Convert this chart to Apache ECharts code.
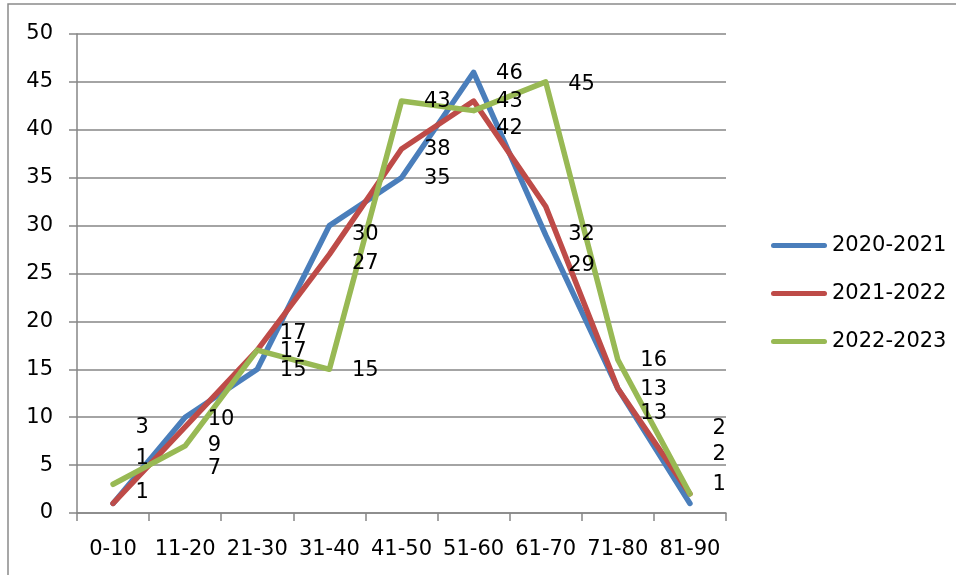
<!DOCTYPE html>
<html>
<head>
<meta charset="utf-8">
<style>
  html, body { margin: 0; padding: 0; background: #fff; }
  #chart { width: 956px; height: 575px; }
</style>
<script src="https://cdn.jsdelivr.net/npm/echarts@6/dist/echarts.min.js"></script>
</head>
<body>
<div id="chart"></div>
<script>
// Age bands on the category axis
const categories = ['0-10', '11-20', '21-30', '31-40', '41-50', '51-60', '61-70', '71-80', '81-90'];

// Counts per age band for each school year
const seriesNames = ['2020-2021', '2021-2022', '2022-2023'];
const values2020 = [1, 10, 15, 30, 35, 46, 29, 13, 1];
const values2021 = [1, 9, 17, 27, 38, 43, 32, 13, 2];
const values2022 = [3, 7, 17, 15, 43, 42, 45, 16, 2];

// Y axis ticks
const yMin = 0, yMax = 50, yStep = 5;

// Vertical nudges (px) that keep the value labels of each band from colliding
const labelDy2020 = [-11, 2, 1, 9, 1, 1, 30, 25, -19];
const labelDy2021 = [-45, 19, -17, 9, 1, 0, 28, 1, -39];
const labelDy2022 = [-57, 23, 1, 1, 0, 18, 3, 1, -65];

const colors = ['#4a7ebb', '#be4b48', '#98b954'];
const FONT = 'DejaVu Sans';
const FONT_SIZE = 21;

function buildData(vals, dys) {
  return vals.map((v, i) => ({ value: v, label: { offset: [0, dys[i]] } }));
}

function makeSeries(name, vals, dys, color) {
  return {
    name: name,
    type: 'line',
    data: buildData(vals, dys),
    symbol: 'circle',
    symbolSize: 1,
    showSymbol: true,
    itemStyle: { color: color },
    lineStyle: { color: color, width: 5.5, cap: 'round', join: 'round' },
    emphasis: { disabled: true },
    label: {
      show: true,
      position: 'right',
      distance: 22,
      color: '#000',
      fontFamily: FONT,
      fontSize: FONT_SIZE
    },
    animation: false
  };
}

const legendIcon = 'path://M2.5,0 H53.5 A2.5,2.5 0 0 1 53.5,5 H2.5 A2.5,2.5 0 0 1 2.5,0 Z';
const axisGray = '#868686';

const chart = echarts.init(document.getElementById('chart'));
chart.setOption({
  animation: false,
  backgroundColor: '#fff',
  graphic: [{
    type: 'rect',
    shape: { x: 8, y: 4, width: 1200, height: 1000 },
    style: { fill: 'none', stroke: '#8a8a8a', lineWidth: 1.5 },
    silent: true
  }],
  grid: { left: 77, top: 34, right: 230, bottom: 62, containLabel: false },
  legend: {
    orient: 'vertical',
    left: 766,
    top: 230,
    itemWidth: 56,
    itemHeight: 5,
    itemGap: 27,
    icon: legendIcon,
    data: seriesNames.map((n, i) => ({ name: n, itemStyle: { color: colors[i] } })),
    textStyle: { fontFamily: FONT, fontSize: FONT_SIZE, color: '#000' },
    selectedMode: false
  },
  xAxis: {
    type: 'category',
    data: categories,
    boundaryGap: true,
    axisLine: { lineStyle: { color: axisGray, width: 1.5 } },
    axisTick: { show: true, alignWithLabel: false, length: 8, lineStyle: { color: axisGray, width: 1.5 } },
    axisLabel: { color: '#000', fontFamily: FONT, fontSize: FONT_SIZE, margin: 26, interval: 0 },
    splitLine: { show: false }
  },
  yAxis: {
    type: 'value',
    min: yMin,
    max: yMax,
    interval: yStep,
    axisLine: { show: true, lineStyle: { color: axisGray, width: 1.5 } },
    axisTick: { show: true, length: 8, lineStyle: { color: axisGray, width: 1.5 } },
    axisLabel: { color: '#000', fontFamily: FONT, fontSize: FONT_SIZE, margin: 24 },
    splitLine: { show: true, lineStyle: { color: axisGray, width: 1.5 } }
  },
  series: [
    makeSeries(seriesNames[0], values2020, labelDy2020, colors[0]),
    makeSeries(seriesNames[1], values2021, labelDy2021, colors[1]),
    makeSeries(seriesNames[2], values2022, labelDy2022, colors[2])
  ]
});
</script>
</body>
</html>
